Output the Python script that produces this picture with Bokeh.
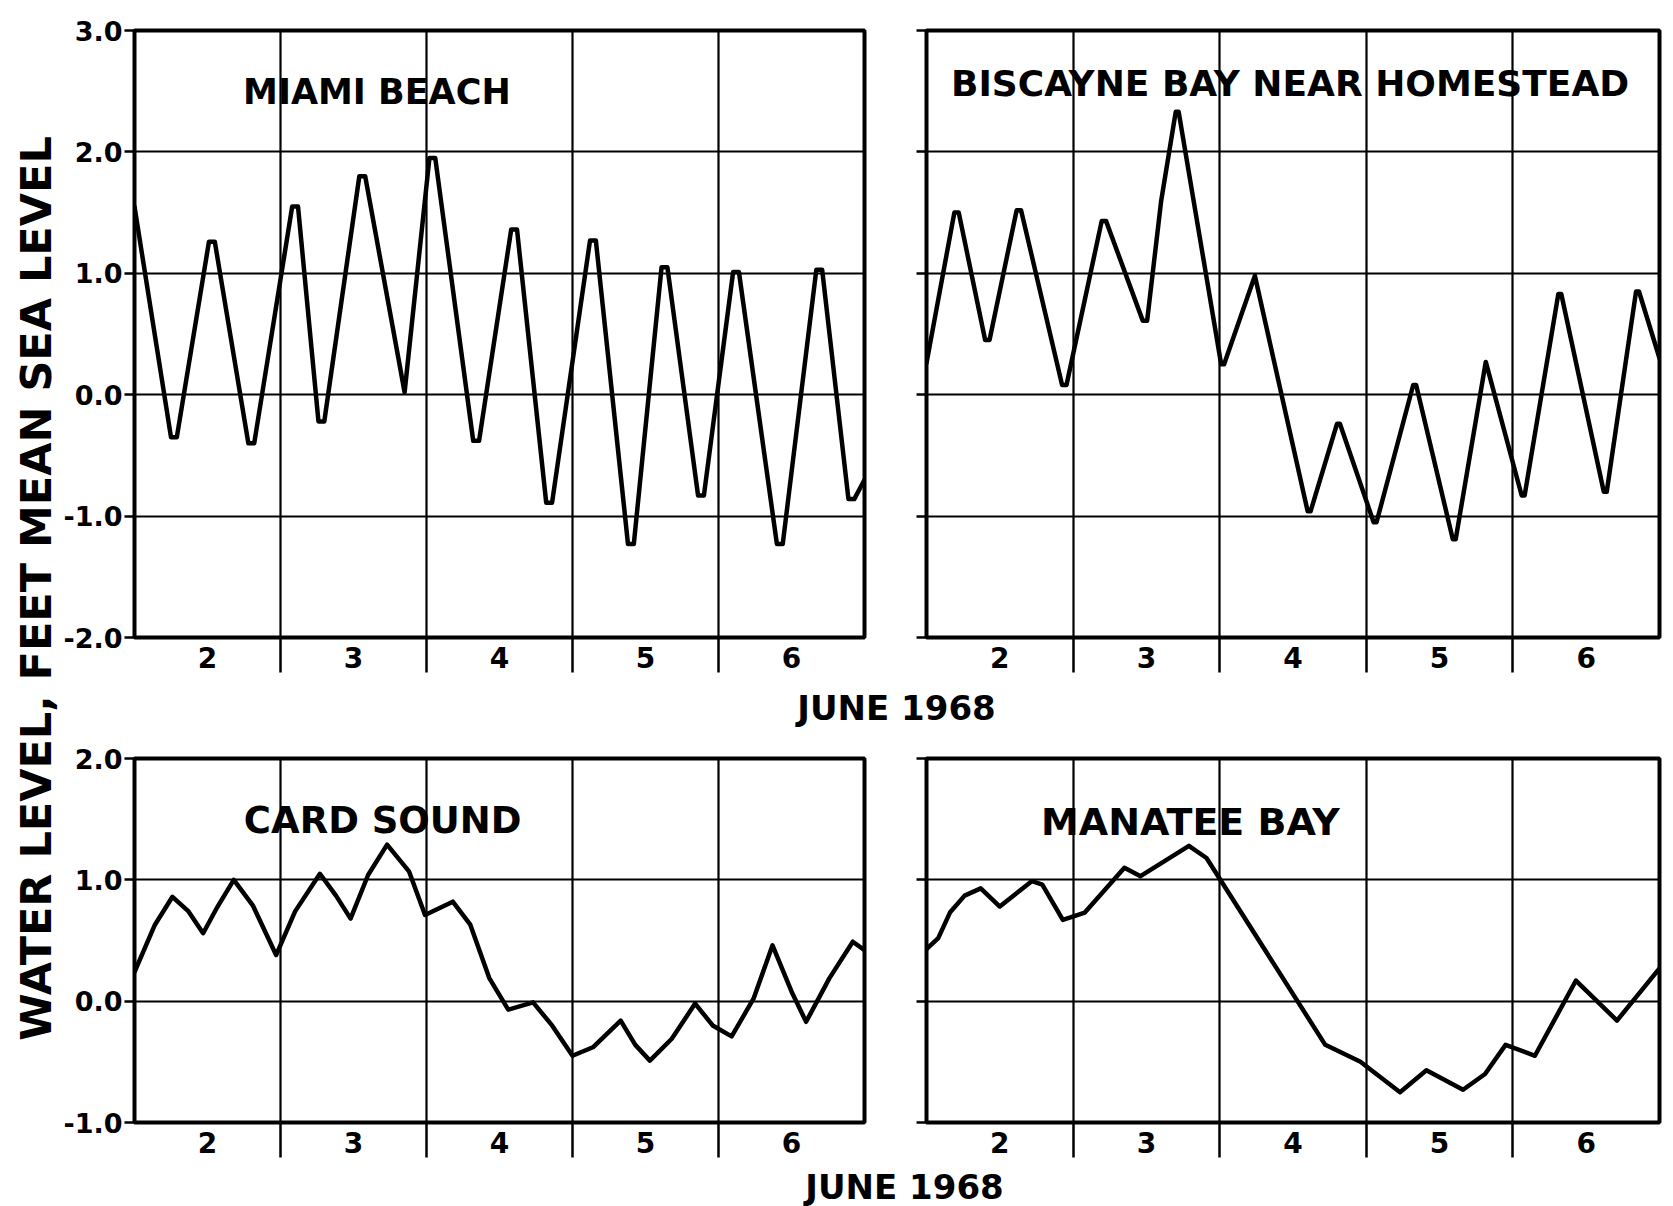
import math
from bokeh.plotting import figure
from bokeh.models import Range1d, FixedTicker, Label, PrintfTickFormatter
from bokeh.layouts import row, column
from bokeh.embed import file_html
from bokeh.resources import INLINE

# ---------------- data ----------------
day_labels = ["2", "3", "4", "5", "6"]
label_pos = [2.5, 3.5, 4.5, 5.5, 6.5]
day_bounds = [3, 4, 5, 6]
top_yticks = [-2, -1, 0, 1, 2, 3]
bot_yticks = [-1, 0, 1, 2]

# Miami Beach (rounded crests/troughs read as short flat tops)
miami_x = [2.00, 2.25, 2.29, 2.51, 2.55, 2.78, 2.82, 3.08, 3.12, 3.26, 3.30,
           3.54, 3.58, 3.85, 4.02, 4.06, 4.32, 4.36, 4.58, 4.62, 4.82, 4.86,
           5.12, 5.16, 5.38, 5.42, 5.61, 5.65, 5.86, 5.90, 6.10, 6.14, 6.40,
           6.44, 6.67, 6.71, 6.89, 6.93, 7.00]
miami_y = [1.55, -0.35, -0.35, 1.26, 1.26, -0.40, -0.40, 1.55, 1.55, -0.22, -0.22,
           1.80, 1.80, 0.02, 1.95, 1.95, -0.38, -0.38, 1.36, 1.36, -0.89, -0.89,
           1.27, 1.27, -1.23, -1.23, 1.05, 1.05, -0.83, -0.83, 1.01, 1.01, -1.23,
           -1.23, 1.03, 1.03, -0.86, -0.86, -0.70]

# Biscayne Bay near Homestead
bisc_x = [2.00, 2.19, 2.22, 2.40, 2.43, 2.615, 2.645, 2.925, 2.955, 3.195, 3.225,
          3.475, 3.505, 3.60, 3.70, 3.72, 4.01, 4.03, 4.24, 4.60, 4.62, 4.80,
          4.82, 5.05, 5.07, 5.32, 5.34, 5.59, 5.61, 5.815, 6.06, 6.08, 6.31,
          6.33, 6.62, 6.64, 6.84, 6.86, 7.00]
bisc_y = [0.26, 1.50, 1.50, 0.45, 0.45, 1.52, 1.52, 0.08, 0.08, 1.43, 1.43,
          0.61, 0.61, 1.59, 2.33, 2.33, 0.25, 0.25, 0.98, -0.96, -0.96, -0.24,
          -0.24, -1.05, -1.05, 0.08, 0.08, -1.19, -1.19, 0.27, -0.83, -0.83, 0.83,
          0.83, -0.80, -0.80, 0.85, 0.85, 0.30]

# Card Sound
card_x = [2.00, 2.14, 2.26, 2.37, 2.47, 2.56, 2.68, 2.81, 2.97, 3.10, 3.27,
          3.38, 3.48, 3.60, 3.73, 3.88, 3.99, 4.18, 4.30, 4.43, 4.56, 4.73,
          4.86, 5.00, 5.14, 5.33, 5.43, 5.53, 5.68, 5.84, 5.96, 6.09, 6.24,
          6.37, 6.50, 6.60, 6.76, 6.92, 7.00]
card_y = [0.24, 0.63, 0.86, 0.74, 0.56, 0.76, 1.00, 0.79, 0.38, 0.74, 1.05,
          0.87, 0.68, 1.04, 1.29, 1.07, 0.71, 0.82, 0.63, 0.19, -0.07, -0.01,
          -0.20, -0.45, -0.38, -0.16, -0.36, -0.49, -0.31, -0.02, -0.20, -0.29, 0.02,
          0.46, 0.08, -0.17, 0.19, 0.49, 0.42]

# Manatee Bay
mana_x = [2.00, 2.08, 2.16, 2.26, 2.37, 2.50, 2.72, 2.79, 2.93, 3.08, 3.35,
          3.46, 3.79, 3.91, 4.72, 4.96, 5.23, 5.41, 5.66, 5.81, 5.95, 6.15,
          6.43, 6.71, 7.00]
mana_y = [0.43, 0.52, 0.73, 0.87, 0.93, 0.78, 0.99, 0.96, 0.67, 0.73, 1.10,
          1.03, 1.28, 1.18, -0.36, -0.50, -0.75, -0.57, -0.73, -0.60, -0.36, -0.45,
          0.17, -0.16, 0.27]

FONT = "DejaVu Sans"


def panel(width, height, bl, br, bt, bb, yr, yticks, show_ylabels):
    p = figure(width=width, height=height, x_range=Range1d(2, 7),
               y_range=Range1d(*yr), output_backend="svg",
               toolbar_location=None, min_border_left=bl,
               min_border_right=br, min_border_top=bt, min_border_bottom=bb)
    p.background_fill_color = "white"
    p.border_fill_color = "white"
    p.outline_line_color = "black"
    p.outline_line_width = 4
    p.outline_line_alpha = 1

    # x axis: day numbers between long day-boundary ticks
    xa = p.xaxis[0]
    xa.ticker = FixedTicker(ticks=label_pos, minor_ticks=day_bounds)
    xa.major_label_overrides = {v: t for v, t in zip(label_pos, day_labels)}
    xa.major_tick_out = 0
    xa.major_tick_in = 0
    xa.major_tick_line_color = None
    xa.minor_tick_out = 35
    xa.minor_tick_in = 0
    xa.minor_tick_line_color = "black"
    xa.minor_tick_line_width = 2.5
    xa.axis_line_color = None
    xa.major_label_standoff = -26
    xa.major_label_text_font = FONT
    xa.major_label_text_font_style = "bold"
    xa.major_label_text_font_size = "28px"
    xa.major_label_text_color = "black"

    ya = p.yaxis[0]
    ya.ticker = FixedTicker(ticks=yticks)
    ya.formatter = PrintfTickFormatter(format="%.1f")
    if not show_ylabels:
        ya.major_label_overrides = {v: "" for v in yticks}
    ya.major_tick_out = 10
    ya.major_tick_in = 0
    ya.major_tick_line_color = "black"
    ya.major_tick_line_width = 2.5
    ya.minor_tick_line_color = None
    ya.axis_line_color = None
    ya.major_label_standoff = 2
    ya.major_label_text_font = FONT
    ya.major_label_text_font_style = "bold"
    ya.major_label_text_font_size = "27px"
    ya.major_label_text_color = "black"

    p.xgrid.ticker = FixedTicker(ticks=day_bounds)
    p.ygrid.ticker = FixedTicker(ticks=yticks[1:-1])
    for g in (p.xgrid, p.ygrid):
        g.grid_line_color = "black"
        g.grid_line_width = 2.2
        g.grid_line_alpha = 1
    return p


def add_curve(p, xs, ys):
    p.line(xs, ys, line_color="black", line_width=4.5,
           line_join="round", line_cap="round")


def add_name(p, text, x, y, size):
    p.add_layout(Label(x=x, y=y, text=text, text_font=FONT,
                       text_font_style="bold", text_font_size=size,
                       text_align="center", text_baseline="middle",
                       text_color="black"))


# top row: frames at y 30..637 ; bottom row: frames at y 758..1122
tl = panel(835, 685, 73, 31, 30, 48, (-2, 3), top_yticks, True)
add_curve(tl, miami_x, miami_y)
add_name(tl, "MIAMI BEACH", 3.66, 2.49, "35px")

tr = panel(770, 685, 31, 6, 30, 48, (-2, 3), top_yticks, False)
add_curve(tr, bisc_x, bisc_y)
add_name(tr, "BISCAYNE BAY NEAR HOMESTEAD", 4.48, 2.56, "36px")

bl = panel(835, 436, 73, 31, 28, 44, (-1, 2), bot_yticks, True)
add_curve(bl, card_x, card_y)
add_name(bl, "CARD SOUND", 3.70, 1.49, "37px")

br = panel(770, 436, 31, 6, 28, 44, (-1, 2), bot_yticks, False)
add_curve(br, mana_x, mana_y)
add_name(br, "MANATEE BAY", 3.80, 1.48, "38px")


def text_strip(width, height):
    p = figure(width=width, height=height, x_range=Range1d(0, width),
               y_range=Range1d(0, height), output_backend="svg",
               toolbar_location=None, x_axis_type=None, y_axis_type=None,
               min_border=0)
    p.outline_line_color = None
    p.background_fill_color = "white"
    p.border_fill_color = "white"
    p.xgrid.visible = False
    p.ygrid.visible = False
    return p


# strip between the rows: page y 685..730, text centre at y 707
june1 = text_strip(1605, 45)
june1.add_layout(Label(x=836, y=23, text="JUNE 1968", text_font=FONT,
                       text_font_style="bold", text_font_size="34px",
                       text_align="center", text_baseline="middle",
                       text_color="black"))
# bottom strip: page y 1166..1206, text centre at y 1186
june2 = text_strip(1605, 40)
june2.add_layout(Label(x=844, y=20, text="JUNE 1968", text_font=FONT,
                       text_font_style="bold", text_font_size="34px",
                       text_align="center", text_baseline="middle",
                       text_color="black"))

ytitle = text_strip(60, 1206)
ytitle.add_layout(Label(x=35, y=1206 - 588,
                        text="WATER LEVEL, FEET MEAN SEA LEVEL",
                        angle=math.pi / 2, text_font=FONT,
                        text_font_style="bold", text_font_size="43px",
                        text_align="center", text_baseline="middle",
                        text_color="black"))

layout = row(ytitle, column(row(tl, tr), june1, row(bl, br), june2))

open("out.html", "w").write(file_html(layout, INLINE))
